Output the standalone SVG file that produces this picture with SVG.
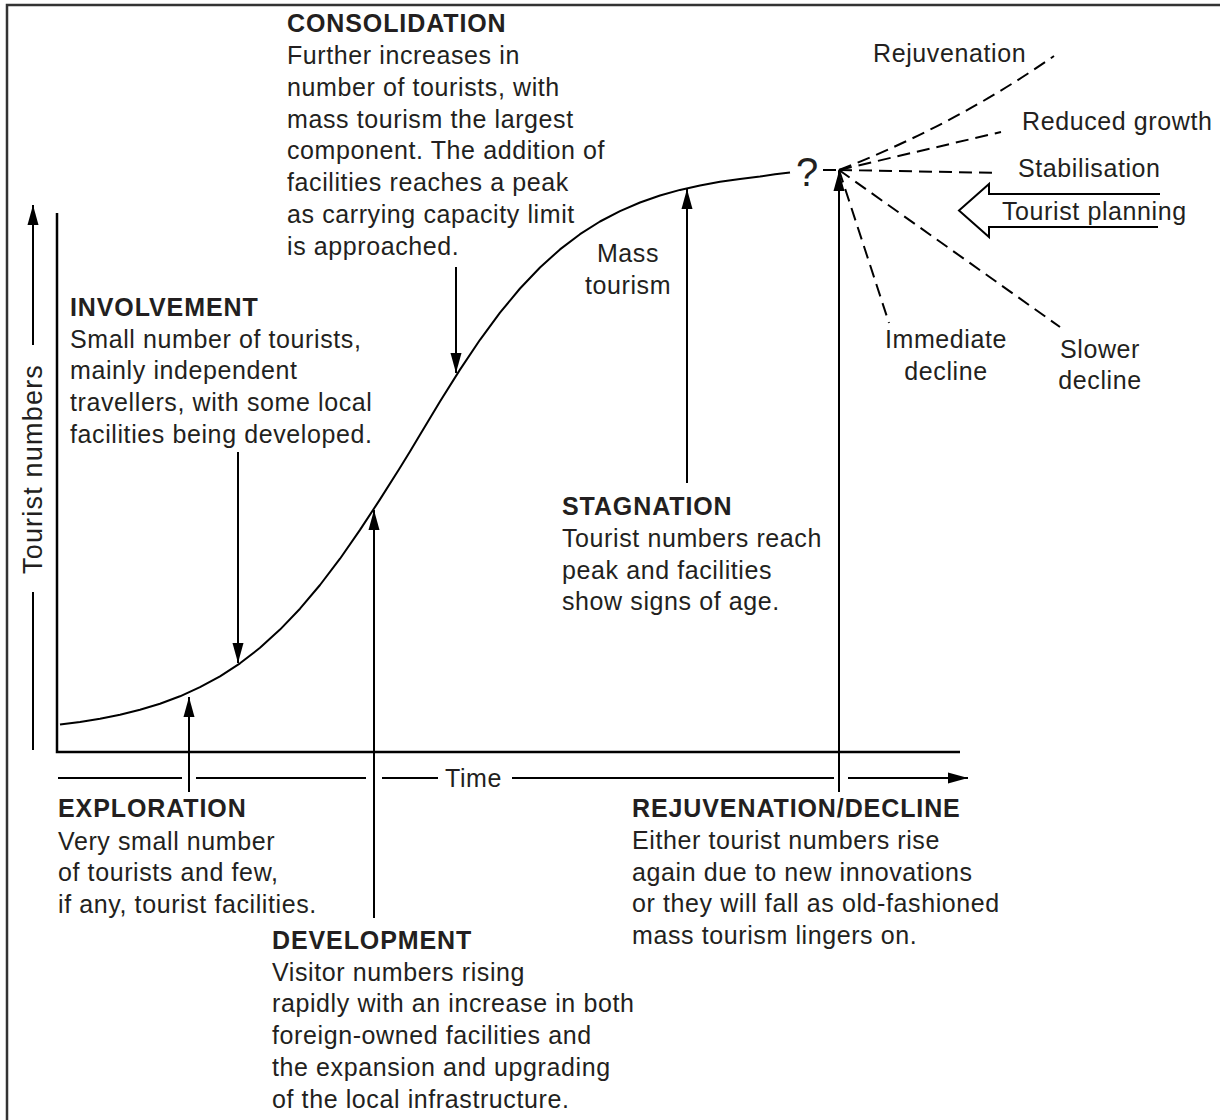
<svg xmlns="http://www.w3.org/2000/svg" width="1220" height="1120" viewBox="0 0 1220 1120">
<defs>
<style>
.t{font-family:"Liberation Sans",Arial,sans-serif;font-size:25px;fill:#231f20;letter-spacing:0.6px}
.h{font-weight:bold;letter-spacing:0.9px}
.m{text-anchor:middle}
.ln{stroke:#000;stroke-width:2;fill:none}
.ax{stroke:#000;stroke-width:2.5;fill:none}
.d{stroke:#000;stroke-width:2;fill:none;stroke-dasharray:13 7}
</style>
<marker id="ah" viewBox="0 0 20 12" refX="20" refY="6" markerWidth="20" markerHeight="12" markerUnits="userSpaceOnUse" orient="auto">
<path d="M0,0.5 L20,6 L0,11.5 Z" fill="#000"/>
</marker>
</defs>
<rect width="1220" height="1120" fill="#fff"/>
<g id="frame">
<path d="M7,1120 V5 H1220" stroke="#333" stroke-width="2.5" fill="none"/>
</g>
<g id="axes">
<path class="ax" d="M57,213 V752 H960"/>
<path class="ln" d="M33,750 V592"/>
<path class="ln" d="M33,345 V205" marker-end="url(#ah)"/>
<text class="t m" style="font-size:27px;letter-spacing:1.2px" transform="translate(42,469) rotate(-90)">Tourist numbers</text>
<path class="ln" d="M58,778 H182 M196,778 H366 M382,778 H438 M512,778 H834"/>
<path class="ln" d="M848,778 H968" marker-end="url(#ah)"/>
<text class="t" x="445" y="787">Time</text>
</g>
<g id="curve">
<path class="ln" stroke-width="2.5" stroke-linejoin="round" d="M60,724.6 L80,722 L100,718.7 L120,714.7 L140,709.8 L160,703.7 L180,696.3 L200,687.2 L220,676.3 L240,663.3 L260,647.8 L280,629.6 L300,608.7 L320,585 L340,558.7 L360,529.9 L380,499.4 L400,467.7 L410,451.5 L420,434.7 L440,401.4 L460,369.6 L480,339.8 L500,312.7 L520,288.5 L540,267.5 L560,249.4 L580,234.2 L600,221.5 L620,211.1 L640,202.5 L660,195.5 L680,189.9 L700,185.4 L720,181.8 L740,178.9 L760,176.5 L775,174.3 L790,172.5"/>
<text x="807" y="186" style="font-family:'Liberation Sans',Arial,sans-serif;font-size:40px;fill:#231f20" text-anchor="middle">?</text>
</g>
<g id="connectors">
<path class="ln" d="M189,792 V697" marker-end="url(#ah)"/>
<path class="ln" d="M238,452 V663" marker-end="url(#ah)"/>
<path class="ln" d="M374,918 V510" marker-end="url(#ah)"/>
<path class="ln" d="M456,267 V373" marker-end="url(#ah)"/>
<path class="ln" d="M687,483 V189" marker-end="url(#ah)"/>
<path class="ln" d="M839,792 V171" marker-end="url(#ah)"/>
</g>
<g id="branches">
<path class="d" d="M823,170 H839"/>
<path class="d" d="M839,170 Q955,125 1054,56"/>
<path class="d" d="M839,170 L1001,132"/>
<path class="d" d="M839,170 L999,173"/>
<path class="d" d="M839,170 L889,323"/>
<path class="d" d="M839,170 L1060,327"/>
</g>
<g id="planning">
<path d="M1160,194 H989 V184 L959,210.5 L989,237 V227 H1158" stroke="#000" stroke-width="2" fill="#fff"/>
<text class="t" x="1002" y="220">Tourist planning</text>
</g>
<g id="branch-labels">
<text class="t" x="873" y="62">Rejuvenation</text>
<text class="t" x="1022" y="130">Reduced growth</text>
<text class="t" x="1018" y="177">Stabilisation</text>
<text class="t m" x="946" y="348">Immediate<tspan x="946" y="380">decline</tspan></text>
<text class="t m" x="1100" y="358">Slower<tspan x="1100" y="389">decline</tspan></text>
<text class="t m" x="628" y="262">Mass<tspan x="628" y="294">tourism</tspan></text>
</g>
<g id="consolidation">
<text class="t h" x="287" y="32">CONSOLIDATION</text>
<text class="t" x="287" y="64">Further increases in<tspan x="287" y="95.8">number of tourists, with</tspan><tspan x="287" y="127.6">mass tourism the largest</tspan><tspan x="287" y="159.4">component. The addition of</tspan><tspan x="287" y="191.2">facilities reaches a peak</tspan><tspan x="287" y="223">as carrying capacity limit</tspan><tspan x="287" y="254.8">is approached.</tspan></text>
</g>
<g id="involvement">
<text class="t h" x="70" y="316">INVOLVEMENT</text>
<text class="t" x="70" y="347.5">Small number of tourists,<tspan x="70" y="379.2">mainly independent</tspan><tspan x="70" y="410.9">travellers, with some local</tspan><tspan x="70" y="442.6">facilities being developed.</tspan></text>
</g>
<g id="exploration">
<text class="t h" x="58" y="817">EXPLORATION</text>
<text class="t" x="58" y="849.5">Very small number<tspan x="58" y="881.2">of tourists and few,</tspan><tspan x="58" y="912.9">if any, tourist facilities.</tspan></text>
</g>
<g id="development">
<text class="t h" x="272" y="949">DEVELOPMENT</text>
<text class="t" x="272" y="980.7">Visitor numbers rising<tspan x="272" y="1012.4">rapidly with an increase in both</tspan><tspan x="272" y="1044.1">foreign-owned facilities and</tspan><tspan x="272" y="1075.8">the expansion and upgrading</tspan><tspan x="272" y="1107.5">of the local infrastructure.</tspan></text>
</g>
<g id="stagnation">
<text class="t h" x="562" y="515">STAGNATION</text>
<text class="t" x="562" y="547">Tourist numbers reach<tspan x="562" y="578.7">peak and facilities</tspan><tspan x="562" y="610.4">show signs of age.</tspan></text>
</g>
<g id="rejuvenation-decline">
<text class="t h" x="632" y="817">REJUVENATION/DECLINE</text>
<text class="t" x="632" y="849">Either tourist numbers rise<tspan x="632" y="880.7">again due to new innovations</tspan><tspan x="632" y="912.4">or they will fall as old-fashioned</tspan><tspan x="632" y="944.1">mass tourism lingers on.</tspan></text>
</g>
</svg>
